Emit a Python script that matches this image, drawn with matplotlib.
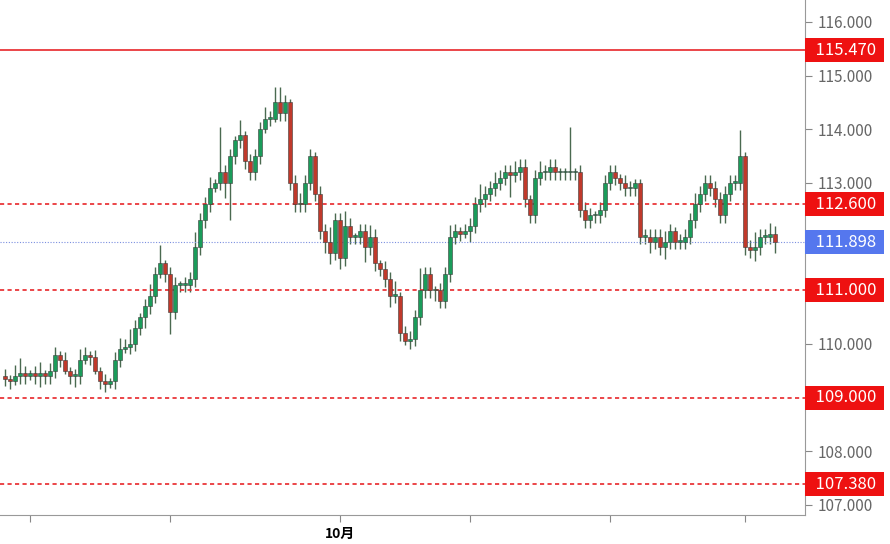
import matplotlib
matplotlib.use("Agg")
import matplotlib.pyplot as plt
import numpy as np

plt.rcParams['font.family'] = ['Noto Sans CJK SC', 'DejaVu Sans']

closes = [109.35,109.30,109.40,109.45,109.40,109.45,109.40,109.45,109.40,109.50,
          109.80,109.70,109.50,109.40,109.40,109.70,109.80,109.75,109.50,109.30,
          109.25,109.30,109.70,109.90,109.95,110.00,110.30,110.50,110.70,110.90,
          111.30,111.50,111.30,110.60,111.10,111.10,111.10,111.20,111.80,112.30,
          112.60,112.90,113.00,113.20,113.00,113.50,113.80,113.90,113.40,113.20,
          113.50,114.00,114.20,114.20,114.50,114.30,114.50,113.00,112.60,112.60,
          113.00,113.50,112.80,112.10,111.90,111.70,112.30,111.60,112.20,112.00,
          112.00,112.10,111.80,112.00,111.50,111.40,111.20,110.90,110.90,110.20,
          110.05,110.10,110.50,111.00,111.30,111.00,111.00,110.80,111.30,112.00,
          112.10,112.05,112.10,112.20,112.60,112.70,112.80,112.90,113.00,113.10,
          113.20,113.15,113.20,113.30,112.70,112.40,113.10,113.20,113.20,113.30,
          113.20,113.20,113.20,113.20,113.20,112.50,112.30,112.40,112.40,112.50,
          113.00,113.20,113.10,113.00,112.90,112.90,113.00,112.00,112.00,111.90,
          112.00,111.80,111.90,112.10,111.90,111.90,112.00,112.30,112.60,112.80,
          113.00,112.90,112.70,112.40,112.80,113.00,113.00,113.50,111.80,111.75,
          111.80,112.00,112.00,112.05,111.90]
open0 = 109.40
up_wick = [0.1,0.05,0.15,0.2,0.1,0.05,0.1,0.15,0.05,0.1,0.1,0.05,0.1,0.05,0.1,0.15,0.1,0.05,0.1,0.05,
           0.1,0.05,0.1,0.15,0.1,0.2,0.1,0.05,0.1,0.15,0.1,0.25,0.05,0.1,0.1,0.05,0.1,0.1,0.2,0.1,
           0.1,0.15,0.05,0.6,0.1,0.1,0.05,0.2,0.05,0.1,0.1,0.1,0.15,0.1,0.2,0.2,0.1,0.05,0.1,0.15,
           0.1,0.1,0.05,0.1,0.1,0.2,0.1,0.1,0.2,0.1,0.05,0.1,0.1,0.15,0.1,0.05,0.1,0.1,0.2,0.05,
           0.1,0.1,0.1,0.3,0.1,0.1,0.05,0.1,0.1,0.15,0.1,0.05,0.1,0.1,0.1,0.2,0.1,0.1,0.15,0.1,
           0.1,0.1,0.15,0.1,0.1,0.05,0.1,0.15,0.1,0.1,0.1,0.05,0.05,0.6,0.05,0.1,0.1,0.1,0.05,0.1,
           0.1,0.1,0.1,0.05,0.1,0.1,0.05,0.05,0.1,0.1,0.1,0.1,0.15,0.1,0.05,0.1,0.1,0.1,0.15,0.1,
           0.1,0.1,0.1,0.1,0.1,0.1,0.1,0.35,0.05,0.1,0.2,0.1,0.1,0.15,0.1]
dn_wick = [0.1,0.1,0.05,0.1,0.1,0.05,0.1,0.15,0.1,0.1,0.1,0.1,0.05,0.1,0.15,0.1,0.05,0.1,0.05,0.1,
           0.1,0.05,0.1,0.1,0.05,0.1,0.1,0.1,0.15,0.1,0.1,0.05,0.1,0.3,0.1,0.1,0.1,0.1,0.1,0.1,
           0.1,0.1,0.05,0.1,0.2,0.5,0.1,0.1,0.1,0.1,0.1,0.1,0.05,0.1,0.05,0.1,0.1,0.1,0.1,0.1,
           0.1,0.1,0.1,0.1,0.15,0.15,0.1,0.15,0.1,0.1,0.1,0.1,0.2,0.1,0.1,0.1,0.1,0.15,0.1,0.1,
           0.05,0.1,0.1,0.1,0.1,0.1,0.15,0.1,0.1,0.1,0.1,0.1,0.05,0.15,0.1,0.1,0.1,0.1,0.1,0.1,
           0.1,0.3,0.1,0.1,0.1,0.1,0.1,0.1,0.1,0.1,0.1,0.1,0.1,0.1,0.1,0.1,0.1,0.1,0.1,0.1,
           0.1,0.1,0.1,0.1,0.1,0.1,0.1,0.1,0.1,0.15,0.1,0.1,0.15,0.1,0.1,0.1,0.1,0.1,0.1,0.1,
           0.1,0.1,0.1,0.1,0.1,0.1,0.1,0.1,0.1,0.1,0.15,0.1,0.1,0.1,0.15]

levels = [115.47, 112.60, 111.00, 109.00, 107.38]
current = 111.898
yticks = [107,108,110,113,114,115,116]

n = len(closes)
opens = [open0] + closes[:-1]
fig = plt.figure(figsize=(8.9,5.44), dpi=100)
ax = fig.add_axes([0, 1-515/544, 805/890, 515/544])
for i in range(n):
    o, c = opens[i], closes[i]
    col = '#1a9c5a' if c >= o else '#c0392b'
    hi = max(o,c) + 1.4*up_wick[i]
    lo = min(o,c) - 1.4*dn_wick[i]
    ax.vlines(i, lo, hi, color='#4a6a50', lw=1.0, zorder=2)
    h = max(abs(c-o), 0.03)
    ax.add_patch(plt.Rectangle((i-0.4, min(o,c)), 0.8, h, facecolor=col,
                               edgecolor='#3a3a3a', lw=0.4, zorder=3))
ax.axhline(levels[0], color='#e8262a', lw=1.2)
for l in levels[1:]:
    ax.axhline(l, color='#e8262a', lw=1.2, ls=(0,(2.5,2)))
ax.axhline(current, color='#7b8fe0', lw=0.8, ls=(0,(1,1.5)))

ax.set_xlim(-1, 160)
ax.set_ylim(106.81, 116.41)
ax.yaxis.tick_right()
ax.set_yticks(yticks)
ax.set_yticklabels([f"{v:.3f}" for v in yticks], color='#666666', fontsize=11)
ax.tick_params(axis='y', length=5, color='#888888', pad=4)
xt = [5, 33, 67, 93, 121, 148]
ax.set_xticks(xt)
ax.set_xticklabels(['', '', '10月', '', '', ''], fontsize=10, fontweight='bold')
ax.tick_params(axis='x', length=5, color='#888888')
for s in ['top','left']:
    ax.spines[s].set_visible(False)
ax.spines['right'].set_color('#999999')
ax.spines['bottom'].set_color('#999999')
def box(v, color):
    ax.text(1.004, v, f"  {v:.3f} ", transform=ax.get_yaxis_transform(), va='center', ha='left',
            color='white', fontsize=12, bbox=dict(facecolor=color, edgecolor='none', pad=2.5))
for l in levels:
    box(l, '#ee1111')
box(current, '#5577ee')
fig.savefig('out.png', dpi=100)
